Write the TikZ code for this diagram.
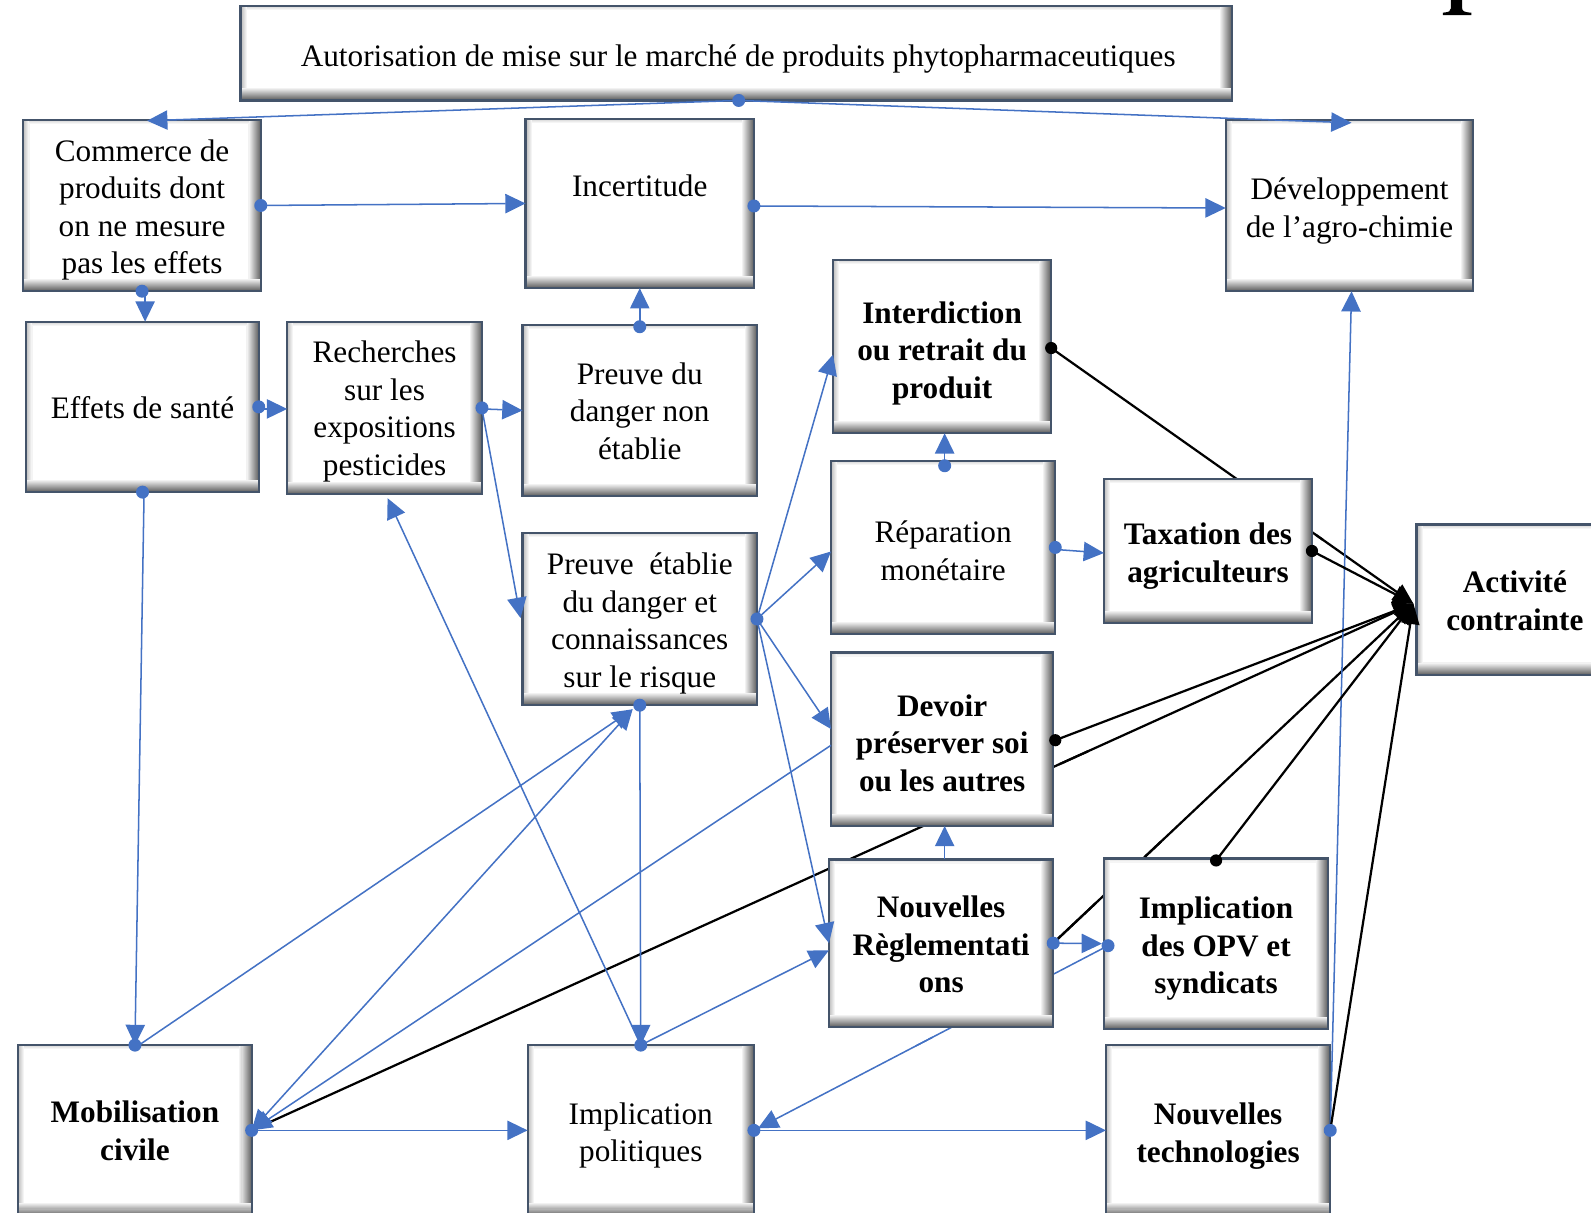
\documentclass[tikz,border=0pt]{standalone}
\usepackage{fontspec}
\setmainfont{Liberation Serif}
\usetikzlibrary{arrows.meta,calc}
\definecolor{lnblue}{HTML}{4472C4}
\definecolor{boxedge}{HTML}{44546A}
\pgfdeclarelayer{bg}
\pgfsetlayers{bg,main}
\tikzset{
  box/.style={draw=boxedge, line width=1.1pt, fill=white, inner sep=0pt, outer sep=0pt,
    path picture={
      \foreach \i in {0,...,11}{
        \pgfmathsetmacro\c{60*(1-\i/12)}
        \fill[black!\c] ($(path picture bounding box.south west)+(0,-\i)$) rectangle ($(path picture bounding box.south east)+(0,-\i-1.1)$);
        \fill[black!\c] ($(path picture bounding box.north east)+(-\i,0)$) rectangle ($(path picture bounding box.south east)+(-\i-1.1,-12)$);
      }
      \foreach \i in {0,...,5}{
        \pgfmathsetmacro\c{26*(1-\i/6)}
        \fill[black!\c] ($(path picture bounding box.north west)+(\i,0)$) rectangle ($(path picture bounding box.south west)+(\i+1.1,-12)$);
      }
      \foreach \i in {0,...,3}{
        \pgfmathsetmacro\c{16*(1-\i/4)}
        \fill[black!\c] ($(path picture bounding box.north west)+(6,\i)$) rectangle ($(path picture bounding box.north east)+(-12,\i+1.1)$);
      }
    }},
  txt/.style={inner sep=0pt, align=center, font=\fontsize{15.4pt}{18.5pt}\selectfont},
  btxt/.style={txt, font=\fontsize{15.4pt}{18.5pt}\selectfont\bfseries},
  bl/.style={draw=lnblue, line width=0.75pt},
  bk/.style={draw=black, line width=1.1pt},
  ar/.style={-{Triangle[length=10pt,width=9.5pt]}},
  ak/.style={-{Triangle[length=10pt,width=9pt]}},
  ba/.style={{Triangle[length=10pt,width=9.5pt]}-{Triangle[length=10pt,width=9.5pt]}},
  bdot/.style={fill=lnblue},
  kdot/.style={fill=black},
}
\begin{document}
\begin{tikzpicture}[x=0.5pt,y=-0.5pt]
\useasboundingbox (0,0) rectangle (1568,1195);
\clip (0,0) rectangle (1568,1195);

% glyph fragment at top right
\fill (1422,14.8) -- (1450,14.8) -- (1450,12.5) .. controls (1443,12) and (1441,11) .. (1441,8) -- (1441,0) -- (1430,0) -- (1430,8) .. controls (1430,11) and (1428,12) .. (1422,12.5) -- cycle;

% boxes
\node[box, minimum width=488.5pt, minimum height=46.5pt] (top) at (725.5,52.5) {};
\node[box, minimum width=117pt, minimum height=84.5pt] (com) at (140,202.5) {};
\node[box, minimum width=112.5pt, minimum height=83.5pt] (inc) at (630.5,200.5) {};
\node[box, minimum width=122pt, minimum height=84.5pt] (dev) at (1330,202.5) {};
\node[box, minimum width=114.5pt, minimum height=84pt] (eff) at (140.5,401) {};
\node[box, minimum width=96pt, minimum height=85pt] (rec) at (379,402) {};
\node[box, minimum width=115.5pt, minimum height=84.5pt] (pdn) at (630.5,404.5) {};
\node[box, minimum width=107.5pt, minimum height=85.5pt] (int) at (928.5,341.5) {};
\node[box, minimum width=110.5pt, minimum height=85.5pt] (rep) at (929.5,539.5) {};
\node[box, minimum width=102.5pt, minimum height=71pt] (tax) at (1190.5,543) {};
\node[box, minimum width=97pt, minimum height=74pt] (act) at (1493,591) {};
\node[box, minimum width=115.5pt, minimum height=85pt] (pet) at (630.5,610) {};
\node[box, minimum width=109.5pt, minimum height=85.5pt] (dvr) at (928.5,728.5) {};
\node[box, minimum width=110.5pt, minimum height=82.5pt] (nr) at (927.5,929.5) {};
\node[box, minimum width=110.5pt, minimum height=84pt] (opv) at (1198.5,930) {};
\node[box, minimum width=115pt, minimum height=84pt] (mob) at (133,1114) {};
\node[box, minimum width=111.5pt, minimum height=84pt] (ip) at (631.5,1114) {};
\node[box, minimum width=110.5pt, minimum height=84pt] (nt) at (1200.5,1114) {};

% texts
\node[txt] (topt) at ($(top)+(2,6)$) {Autorisation de mise sur le marché de produits phytopharmaceutiques};
\node[txt] (comt) at ($(com)+(0,4.5)$) {Commerce de\\produits dont\\on ne mesure\\pas les effets};
\node[txt] (inct) at (630.5,183) {Incertitude};
\node[txt] (devt) at ($(dev)+(0,5.5)$) {Développement\\de l’agro-chimie};
\node[txt] (efft) at ($(eff)+(0,1)$) {Effets de santé};
\node[txt] (rect) at ($(rec)+(0,3.5)$) {Recherches\\sur les\\expositions\\pesticides};
\node[txt] (pdnt) at ($(pdn)+(0,0.5)$) {Preuve du\\danger non\\établie};
\node[btxt] (intt) at ($(int)+(0,6.5)$) {Interdiction\\ou retrait du\\produit};
\node[txt] (rept) at ($(rep)+(0,3.5)$) {Réparation\\monétaire};
\node[btxt] (taxt) at ($(tax)+(0,5)$) {Taxation des\\agriculteurs};
\node[btxt] (actt) at ($(act)+(0,1)$) {Activité\\contrainte};
\node[txt] (pett) at ($(pet)+(0,4.5)$) {Preuve\ \ établie\\du danger et\\connaissances\\sur le risque};
\node[btxt] (dvrt) at ($(dvr)+(0,4)$) {Devoir\\préserver soi\\ou les autres};
\node[btxt] (nrt) at ($(nr)+(0,1.5)$) {Nouvelles\\Règlementati\\ons};
\node[btxt] (opvt) at ($(opv)+(0,5)$) {Implication\\des OPV et\\syndicats};
\node[btxt] (mobt) at ($(mob)+(0,0.5)$) {Mobilisation\\civile};
\node[txt] (ipt) at ($(ip)+(0,5)$) {Implication\\politiques};
\node[btxt] (ntt) at ($(nt)+(0,5.5)$) {Nouvelles\\technologies};

\coordinate (topd) at ($(top.south)+(2.5,0)$);
\coordinate (actin) at ($(act.west)+(-3,4)$);
\coordinate (petin) at ($(pet.south)+(-7,4)$);
\coordinate (opvd) at ($(opv.west)+(4,2)$);
\coordinate (ipin) at ($(ip.east)+(4,-2)$);
\coordinate (intd) at ($(int.east)+(0,1.5)$);

% connectors that pass behind boxes
\begin{pgfonlayer}{bg}
\draw[bl] (opvd) -- ($(opvd)!0.55!(ipin)$);
\draw[bk] (intd) -- ($(intd)!0.75!(actin)$);
\draw[bk] (mob.east) -- ($(mob.east)!0.72!(actin)$);
\draw[bk] (nr.east) -- ($(nr.east)!0.3!(actin)$);
\end{pgfonlayer}
\draw[bl,ar] ($(opvd)!0.5!(ipin)$) -- (ipin);
\draw[bk,ak] ($(intd)!0.73!(actin)$) -- (actin);
\draw[bk,ak] ($(mob.east)!0.695!(actin)$) -- (actin);
\draw[bk,ak] ($(nr.east)!0.255!(actin)$) -- (actin);
\draw[bk] (nr.east) -- ($(nr.east)!0.12!(actin)$);

% blue connectors
\draw[bl,ar] (topd) -- ($(com.north)+(5,1)$);
\draw[bl,ar] (topd) -- ($(dev.north)+(2,3)$);
\draw[bl,ar] (com.east) -- (inc.west);
\draw[bl,ar] ($(inc.east)+(0,2.5)$) -- ($(dev.west)+(0,2.5)$);
\draw[bl,ar] ($(com.south)+(3,0)$) -- ($(eff.north)+(2.5,0)$);
\draw[bl,ar] ($(eff.east)+(0,2)$) -- ($(rec.west)+(0,1)$);
\draw[bl,ar] ($(rec.east)+(0,1)$) -- (pdn.west);
\draw[bl,ar] ($(rec.east)+(0,1)$) -- ($(pet.west)+(-2,-1)$);
\draw[bl,ar] ($(pdn.north)+(0,2)$) -- (inc.south);
\draw[bl,ar] (pet.east) -- ($(int.west)+(0,8)$);
\draw[bl,ar] (pet.east) -- ($(rep.west)+(0,4)$);
\draw[bl,ar] (pet.east) -- ($(dvr.west)+(0,-10)$);
\draw[bl,ar] (pet.east) -- (nr.west);
\draw[bl,ar] ($(rep.east)+(0,2)$) -- ($(tax.west)+(0,2)$);
\draw[bl,ar] ($(rep.north)+(1.5,5)$) -- ($(int.south)+(2.5,0)$);
\draw[bl,ar] ($(nr.north)+(3.5,0)$) -- ($(dvr.south)+(2.5,0)$);
\draw[bl,ar] ($(eff.south)+(1.5,0)$) -- (mob.north);
\draw[bl,ar] ($(mob.north)+(1,2)$) -- (petin);
\draw[bl,ba] (mob.east) -- (petin);
\draw[bl,ar] ($(dvr.west)+(0,6)$) -- (mob.east);
\draw[bl,ar] (pet.south) -- (ip.north);
\draw[bl,ar] (ip.north) -- ($(rec.south)+(3,4)$);
\draw[bl,ar] (ip.north) -- ($(nr.west)+(0,7)$);
\draw[bl,ar] (ip.east) -- (nt.west);
\draw[bl,ar] (mob.east) -- (ip.west);
\draw[bl,ar] (nr.east) -- ($(opv.west)+(-2,0)$);
\draw[bl,ar] (nt.east) -- ($(dev.south)+(2,0)$);

% black connectors to Activité contrainte
\draw[bk,ak] (tax.east) -- (actin);
\draw[bk,ak] ($(dvr.east)+(2,1)$) -- (actin);
\draw[bk,ak] ($(opv.north)+(0,2)$) -- (actin);
\draw[bk,ak] (nt.east) -- (actin);

% dots
\foreach \p in {topd, com.east, com.south, eff.east, eff.south, rec.east, pet.east,
  rep.east, mob.north, mob.east, pet.south, ip.north, ip.east, nr.east, nt.east, opvd}
  \fill[bdot] (\p) circle[radius=3.2pt];
\fill[bdot] ($(inc.east)+(0,2.5)$) circle[radius=3.2pt];
\fill[bdot] ($(pdn.north)+(0,2)$) circle[radius=3.2pt];
\fill[bdot] ($(rep.north)+(1.5,5)$) circle[radius=3.2pt];
\fill[kdot] (intd) circle[radius=3pt];
\fill[kdot] (tax.east) circle[radius=3pt];
\fill[kdot] ($(dvr.east)+(2,1)$) circle[radius=3pt];
\fill[kdot] ($(opv.north)+(0,2)$) circle[radius=3pt];
\end{tikzpicture}
\end{document}
